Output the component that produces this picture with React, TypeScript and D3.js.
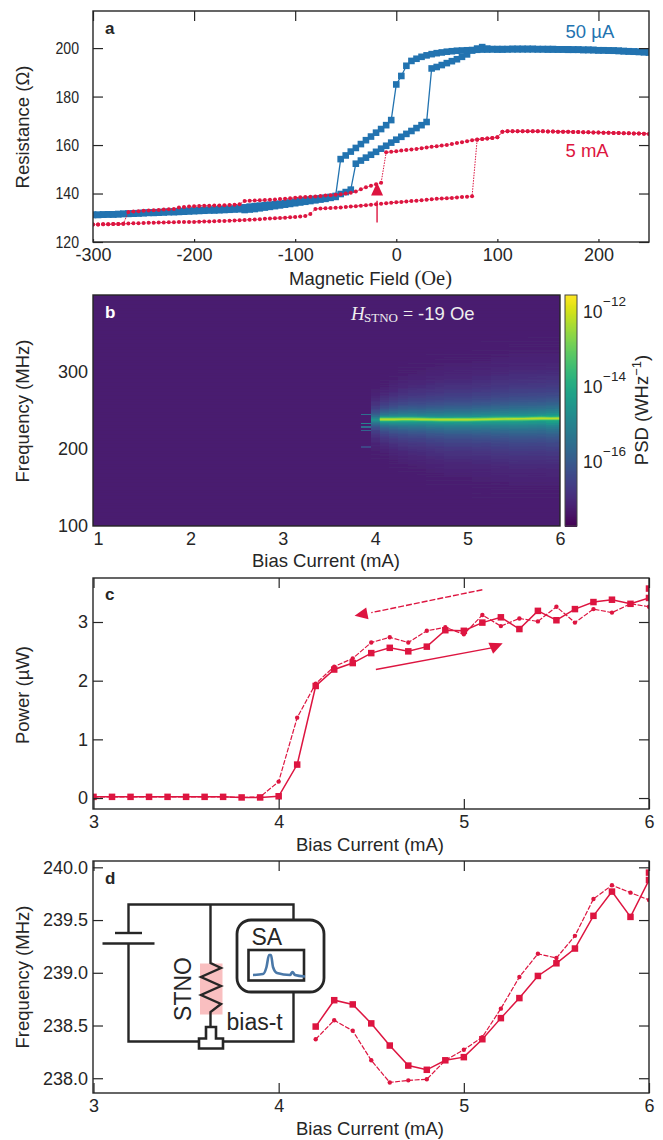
import React, { useEffect, useRef } from "react";
import * as d3 from "d3";

const crimson = "#dd1540";
const blue = "#2273b0";
const ink = "#262626";
const sans = "'Liberation Sans', Arial, sans-serif";
const serif = "'Liberation Serif', 'Times New Roman', serif";

// panel a, one value every 5 Oe from -300 to 250
const fieldGrid = d3.range(-300, 255, 5);
const blueLower = [
  131.2, 131.2, 131.3, 131.4, 131.4, 131.5, 131.6, 131.6, 131.7, 131.8,
  131.9, 132, 132, 132.1, 132.2, 132.3, 132.3, 132.4, 132.5, 132.6,
  132.7, 132.8, 132.9, 133, 133, 133.1, 133.2, 133.3, 133.4, 133.5,
  133.2, 133.4, 133.6, 133.9, 134.2, 134.5, 134.8, 135.1, 135.4, 135.7,
  136, 136.3, 136.6, 136.9, 137.2, 137.5, 137.8, 138.2, 138.6, 139.8,
  140.6, 141.6, 152.3, 153.6, 154.8, 156, 157.2, 158.5, 159.7, 161,
  162.2, 163.4, 164.6, 165.8, 167, 168.2, 169.5, 191.6, 192.2, 193,
  193.8, 194.6, 195.4, 196.4, 197.4, 199, 199.8, 200.4, 199.8, 199.6,
  199.4, 199.4, 199.5, 199.5, 199.5, 199.5, 199.5, 199.5, 199.5, 199.5,
  199.4, 199.4, 199.4, 199.4, 199.3, 199.3, 199.3, 199.2, 199.2, 199.2,
  199.1, 199.1, 199, 199, 198.9, 198.8, 198.7, 198.6, 198.5, 198.4, 198.3,
];
const blueUpper = [
  131.2, 131.2, 131.3, 131.4, 131.4, 131.5, 131.6, 131.7, 131.8, 131.9,
  132, 132.1, 132.2, 132.3, 132.4, 132.5, 132.6, 132.7, 132.8, 132.9,
  133, 133.1, 133.2, 133.3, 133.4, 133.5, 133.6, 133.7, 133.8, 134,
  134.3, 134.6, 134.8, 135, 135.2, 135.4, 135.6, 135.8, 136, 136.3,
  136.6, 136.9, 137.2, 137.5, 137.8, 138, 138.3, 138.6, 139, 154.2,
  155.7, 157.3, 158.8, 160.4, 162, 163.5, 165.1, 166.6, 168.2, 170.3,
  185, 188.5, 192.7, 194.7, 195.6, 196.4, 197, 197.5, 197.9, 198.2,
  198.5, 198.7, 198.9, 199, 199.1, 199.2, 199.3, 199.4, 199.4, 199.5,
  199.6, 199.6, 199.6, 199.7, 199.7, 199.7, 199.7, 199.7, 199.6, 199.6,
  199.6, 199.6, 199.5, 199.5, 199.5, 199.4, 199.4, 199.3, 199.3, 199.2,
  199.1, 199.1, 199, 198.9, 198.8, 198.7, 198.6, 198.5, 198.4, 198.3, 198.2,
];
const redLower = [
  127.2, 127.2, 127.3, 127.3, 127.4, 127.4, 127.5, 127.6, 127.7, 127.7,
  127.8, 127.9, 127.9, 128, 128, 128.1, 128.1, 128.2, 128.2, 128.3,
  128.3, 128.4, 128.5, 128.5, 128.6, 128.7, 128.7, 128.8, 128.9, 129,
  129.1, 129.2, 129.3, 129.4, 129.6, 129.7, 129.8, 129.9, 130, 130.2,
  130.3, 130.5, 130.7, 131.6, 133.6, 133.8, 133.9, 134, 134.1, 134.2,
  134.4, 134.6, 134.8, 135, 135.2, 135.4, 135.6, 135.8, 136, 136.2,
  136.4, 136.5, 136.7, 136.9, 137, 137.2, 137.4, 137.6, 137.8, 137.9,
  138.1, 138.2, 138.4, 138.6, 138.7, 138.9, 162.2, 162.5, 162.7, 162.9,
  163.2, 165.5, 165.7, 165.7, 165.7, 165.7, 165.7, 165.7, 165.7, 165.7,
  165.6, 165.6, 165.5, 165.5, 165.5, 165.4, 165.4, 165.3, 165.3, 165.2,
  165.2, 165.1, 165.1, 165, 165, 164.9, 164.9, 164.8, 164.8, 164.7, 164.6,
];
const redUpper = [
  127.2, 127.2, 127.3, 127.3, 127.4, 127.4, 127.5, 132.4, 132.6, 132.7,
  132.9, 133, 133.1, 133.2, 133.4, 133.5, 133.6, 134.2, 134.4, 134.6,
  134.8, 134.9, 135, 135, 135.1, 135.1, 135.2, 135.3, 135.4, 135.6,
  136.9, 137, 137.1, 137.2, 137.3, 137.4, 137.5, 137.7, 137.8, 138,
  138.3, 138.5, 138.6, 138.7, 138.8, 139, 139.2, 139.3, 139.5, 139.7,
  140, 140.3, 140.8, 141.8, 142.6, 143.2, 143.8, 144.4, 157, 157.2,
  157.4, 157.7, 158, 158.2, 158.4, 158.7, 159, 159.3, 159.5, 159.8,
  160, 160.4, 160.8, 161.2, 161.6, 162, 162.3, 162.5, 162.7, 162.9,
  163.2, 165.5, 165.7, 165.7, 165.7, 165.7, 165.7, 165.7, 165.7, 165.7,
  165.6, 165.6, 165.5, 165.5, 165.5, 165.4, 165.4, 165.3, 165.3, 165.2,
  165.2, 165.1, 165.1, 165, 165, 164.9, 164.9, 164.8, 164.8, 164.7, 164.6,
];

// panel b
const psdCurrents = [4, 4.1, 4.2, 4.3, 4.4, 4.5, 4.6, 4.7, 4.8, 4.9, 5, 5.1, 5.2, 5.3, 5.4, 5.5, 5.6, 5.7, 5.8, 5.9, 6];
const psdCentre = [238.5, 238.5, 238.5, 238.7, 238.7, 238.5, 238.3, 238.1, 238.1, 238.2, 238.2, 238.4, 238.6, 238.8, 239, 239.1, 239.2, 239.5, 239.8, 239.6, 239.9];
const psdHaze = [0.72, 0.95, 0.92, 0.9, 0.88, 0.85, 0.85, 0.85, 0.85, 0.85, 0.85, 0.85, 0.85, 0.85, 0.85, 0.85, 0.85, 0.85, 0.85, 0.9, 0.9];
const psdSpread = [0.45, 0.5, 0.58, 0.65, 0.7, 0.72, 0.78, 0.8, 0.85, 0.85, 0.85, 0.9, 0.9, 0.95, 0.95, 1, 1, 1, 1, 1, 1];
const hazeOffsets = [0, 4, 8, 14, 22, 32, 45, 65, 90, 120];
const hazeLevels = [0.6, 0.54, 0.44, 0.33, 0.23, 0.15, 0.09, 0.035, 0.005, 0];
const ridgeLevels = [0.62, 0.76, 0.89];
const ridgeWidths = [5, 3.2, 1.6];
const streakFreqs = [246, 234, 230, 225, 204];
const streakLevels = [0.36, 0.44, 0.36, 0.32, 0.2];
const rowShade = [0.08, 0.083, 0.077, 0.081, 0.085, 0.079, 0.076, 0.082, 0.084, 0.078, 0.08, 0.077, 0.083];
const psdTicks = [1e-12, 1e-14, 1e-16];
const psdExponents = ["\u221212", "\u221214", "\u221216"];

// panels c and d, 0.1 mA steps
const powerCurrents = d3.range(30, 61).map((d) => d / 10);
const powerUp = [0.02, 0.02, 0.02, 0.02, 0.02, 0.02, 0.02, 0.02, 0.01, 0.01, 0.03, 0.57, 1.91, 2.19, 2.3, 2.47, 2.56, 2.5, 2.58, 2.86, 2.85, 2.99, 3.08, 2.88, 3.19, 3.03, 3.22, 3.34, 3.38, 3.31, 3.41];
const powerDown = [0.02, 0.02, 0.02, 0.02, 0.02, 0.02, 0.02, 0.02, 0.01, 0.02, 0.28, 1.37, 1.95, 2.24, 2.38, 2.65, 2.74, 2.65, 2.85, 2.91, 2.79, 3.12, 2.93, 3.06, 3.01, 3.26, 2.99, 3.22, 3.16, 3.31, 3.26];
const powerExtra = [6, 3.57];
const freqCurrents = d3.range(42, 61).map((d) => d / 10);
const freqUp = [238.49, 238.74, 238.7, 238.52, 238.31, 238.12, 238.08, 238.17, 238.2, 238.37, 238.57, 238.76, 238.97, 239.09, 239.23, 239.54, 239.77, 239.53, 239.88];
const freqDown = [238.37, 238.55, 238.45, 238.17, 237.96, 237.98, 237.99, 238.17, 238.27, 238.39, 238.66, 238.96, 239.18, 239.14, 239.35, 239.7, 239.83, 239.76, 239.69];
const freqExtra = [6, 239.95];

type Frame = { left: number; right: number; top: number; bottom: number };
const frameA: Frame = { left: 93, right: 649, top: 11, bottom: 242 };
const frameB: Frame = { left: 93, right: 560, top: 295, bottom: 526 };
const frameC: Frame = { left: 93, right: 649, top: 578, bottom: 809 };
const frameD: Frame = { left: 93, right: 649, top: 861, bottom: 1093 };

const App = () => {
  const svgRef = useRef<SVGSVGElement>(null);

  useEffect(() => {
    const svg = d3.select(svgRef.current);
    svg.selectAll("*").remove();

    const put = (
      parent: any,
      str: string,
      x: number,
      y: number,
      size: number,
      opts: { anchor?: string; fill?: string; weight?: string; rotate?: boolean; family?: string } = {}
    ) =>
      parent
        .append("text")
        .attr("x", opts.rotate ? 0 : x)
        .attr("y", opts.rotate ? 0 : y)
        .attr("transform", opts.rotate ? `translate(${x},${y}) rotate(-90)` : null)
        .attr("text-anchor", opts.anchor || "start")
        .attr("font-family", opts.family || sans)
        .attr("font-size", size)
        .attr("font-weight", opts.weight || "normal")
        .attr("fill", opts.fill || ink)
        .text(str);

    const drawAxes = (
      f: Frame,
      x: any,
      y: any,
      xTicks: number[],
      yTicks: number[],
      yFormat: (d: any) => string,
      inner: number,
      bottomInner: number,
      yPad: number
    ) => {
      const g = svg.append("g");
      const style = (a: any) => {
        a.selectAll("path").remove();
        a.selectAll("line").attr("stroke", ink).attr("stroke-width", 1.2);
        a.selectAll("text").attr("font-family", sans).attr("font-size", 18).attr("fill", ink);
      };
      g.append("g")
        .attr("transform", `translate(0,${f.bottom})`)
        .call(d3.axisBottom(x).tickValues(xTicks).tickSize(-bottomInner).tickPadding(6).tickFormat((d: any) => String(d)))
        .call(style);
      g.append("g")
        .attr("class", "left-axis")
        .attr("transform", `translate(${f.left},0)`)
        .call(d3.axisLeft(y).tickValues(yTicks).tickSize(-inner).tickPadding(yPad).tickFormat(yFormat as any))
        .call(style);
      g.append("g")
        .attr("transform", `translate(0,${f.top})`)
        .call(d3.axisTop(x).tickValues(xTicks).tickSize(-inner).tickFormat(() => ""))
        .call(style);
      g.append("g")
        .attr("transform", `translate(${f.right},0)`)
        .call(d3.axisRight(y).tickValues(yTicks).tickSize(-inner).tickFormat(() => ""))
        .call(style);
      g.append("rect")
        .attr("x", f.left)
        .attr("y", f.top)
        .attr("width", f.right - f.left)
        .attr("height", f.bottom - f.top)
        .attr("fill", "none")
        .attr("stroke", ink)
        .attr("stroke-width", 1.4);
      return g;
    };

    const clipped = (id: string, f: Frame) => {
      svg
        .append("clipPath")
        .attr("id", id)
        .append("rect")
        .attr("x", f.left)
        .attr("y", f.top)
        .attr("width", f.right - f.left)
        .attr("height", f.bottom - f.top);
      return svg.append("g").attr("clip-path", `url(#${id})`);
    };

    const series = (
      g: any,
      xs: number[],
      ys: number[],
      x: any,
      y: any,
      o: { color: string; width: number; dash?: string; square?: number; dot?: number }
    ) => {
      const pts = xs.map((d, i) => [x(d), y(ys[i])] as [number, number]);
      g.append("path")
        .attr("d", d3.line()(pts))
        .attr("fill", "none")
        .attr("stroke", o.color)
        .attr("stroke-width", o.width)
        .attr("stroke-dasharray", o.dash || null);
      if (o.square) {
        const s = o.square;
        g.selectAll(null)
          .data(pts)
          .join("rect")
          .attr("x", (d: any) => d[0] - s / 2)
          .attr("y", (d: any) => d[1] - s / 2)
          .attr("width", s)
          .attr("height", s)
          .attr("fill", o.color);
      }
      if (o.dot) {
        g.selectAll(null)
          .data(pts)
          .join("circle")
          .attr("cx", (d: any) => d[0])
          .attr("cy", (d: any) => d[1])
          .attr("r", o.dot)
          .attr("fill", o.color);
      }
    };

    const arrow = (g: any, x0: number, y0: number, x1: number, y1: number, tipX: number, tipY: number, dash?: string) => {
      g.append("line")
        .attr("x1", x0)
        .attr("y1", y0)
        .attr("x2", x1)
        .attr("y2", y1)
        .attr("stroke", crimson)
        .attr("stroke-width", 1.4)
        .attr("stroke-dasharray", dash || null);
      const a = Math.atan2(tipY - y1, tipX - x1);
      const base = 13;
      const half = 6;
      const bx = tipX - base * Math.cos(a);
      const by = tipY - base * Math.sin(a);
      const tri = d3.line()([
        [tipX, tipY],
        [bx + half * Math.sin(a), by - half * Math.cos(a)],
        [bx - half * Math.sin(a), by + half * Math.cos(a)],
      ]);
      g.append("path").attr("d", tri + "Z").attr("fill", crimson);
    };

    // panel a
    const xA = d3.scaleLinear().domain([-300, 250]).range([frameA.left, frameA.right]);
    const yA = d3.scaleLinear().domain([120, 215.3]).range([frameA.bottom, frameA.top]);
    const gA = clipped("clipA", frameA);
    series(gA, fieldGrid, blueLower, xA, yA, { color: blue, width: 1.3, square: 6.6 });
    series(gA, fieldGrid, blueUpper, xA, yA, { color: blue, width: 1.3, square: 6.6 });
    series(gA, fieldGrid, redLower, xA, yA, { color: crimson, width: 1, dash: "1.5 1.2", dot: 2 });
    series(gA, fieldGrid, redUpper, xA, yA, { color: crimson, width: 1, dash: "1.5 1.2", dot: 2 });
    const axesA = drawAxes(frameA, xA, yA, [-300, -200, -100, 0, 100, 200], [120, 140, 160, 180, 200], (d) => String(d), 10, 3, 14);
    // the y numbers of this panel are narrower than the others in the reference
    axesA.select(".left-axis").selectAll("text").attr("font-size", 17).attr("textLength", 23.5).attr("lengthAdjust", "spacingAndGlyphs");
    arrow(svg, xA(-19), yA(128), xA(-19), yA(137), xA(-19), yA(144.5));
    put(svg, "50 \u00b5A", 565.5, 37.5, 18.5, { fill: blue });
    put(svg, "5 mA", 565.5, 157, 18.5, { fill: crimson });
    put(svg, "a", 105, 34, 17, { weight: "bold" });
    const labelA = put(svg, "Magnetic Field ", 289, 285, 18.5);
    labelA.append("tspan").attr("font-family", serif).attr("font-size", 20.5).text("(Oe)");
    put(svg, "Resistance (\u03a9)", 29, 127, 18.5, { rotate: true, anchor: "middle" });

    // panel b
    const xB = d3.scaleLinear().domain([0.946, 6]).range([frameB.left, frameB.right]);
    const yB = d3.scaleLinear().domain([100, 400]).range([frameB.bottom, frameB.top]);
    const colour = d3.scaleSequential(d3.interpolateViridis).domain([0, 1]);
    svg
      .append("filter")
      .attr("id", "soften")
      .attr("x", "-2%")
      .attr("y", "-2%")
      .attr("width", "104%")
      .attr("height", "104%")
      .append("feGaussianBlur")
      .attr("stdDeviation", 0.6);
    const gB = clipped("clipB", frameB).append("g").attr("filter", "url(#soften)");
    const cells = gB.append("g").attr("shape-rendering", "crispEdges");
    const rows = d3.range(98, 402, 1.3);
    const rowH = yB(100) - yB(101.3) + 0.5;
    rows.forEach((f, i) => {
      cells
        .append("rect")
        .attr("x", frameB.left - 4)
        .attr("y", yB(f + 1.3))
        .attr("width", frameB.right - frameB.left + 8)
        .attr("height", rowH)
        .attr("fill", colour(rowShade[i % rowShade.length]));
    });
    const haze = d3.scaleLinear().domain(hazeOffsets).range(hazeLevels).clamp(true);
    const colW = xB(1.1) - xB(1);
    psdCurrents.forEach((c, k) => {
      rows.forEach((f, i) => {
        const off = Math.abs(f + 0.65 - psdCentre[k]);
        const soft = rowShade[i % rowShade.length] + psdHaze[k] * haze(off / psdSpread[k]);
        cells
          .append("rect")
          .attr("x", xB(c) - colW / 2)
          .attr("y", yB(f + 1.3))
          .attr("width", c === 6 ? colW + 6 : colW + 0.5)
          .attr("height", rowH)
          .attr("fill", colour(soft));
      });
    });
    streakFreqs.forEach((f, i) => {
      cells
        .append("rect")
        .attr("x", xB(3.9) - colW / 2)
        .attr("y", yB(f))
        .attr("width", colW)
        .attr("height", 1.6)
        .attr("fill", colour(streakLevels[i]));
    });
    // the narrow oscillation peak, skipping the 4.0 mA column
    const ridge = d3
      .line<number>()
      .x((d) => xB(psdCurrents[d] === 4.1 ? 4.05 : psdCurrents[d] === 6 ? 6.1 : psdCurrents[d]))
      .y((d) => yB(psdCentre[d]));
    ridgeLevels.forEach((level, i) => {
      gB.append("path")
        .attr("d", ridge(d3.range(1, psdCurrents.length)))
        .attr("fill", "none")
        .attr("stroke", colour(level))
        .attr("stroke-width", ridgeWidths[i]);
    });
    drawAxes(frameB, xB, yB, [1, 2, 3, 4, 5, 6], [100, 200, 300], (d) => String(d), 0, 0, 5);
    put(svg, "b", 105, 318, 17, { weight: "bold", fill: "#fff" });
    const hText = put(svg, "H", 351, 320, 19, { fill: "#eee", family: serif });
    hText.attr("font-style", "italic");
    put(svg, "STNO", 364, 322, 13, { fill: "#eee", family: serif });
    put(svg, "=", 403, 320, 18, { fill: "#eee", family: serif });
    put(svg, "-19 Oe", 418, 320, 18.5, { fill: "#eee" });
    put(svg, "Bias Current (mA)", 326, 567, 18.5, { anchor: "middle" });
    put(svg, "Frequency (MHz)", 29, 411, 18.5, { rotate: true, anchor: "middle" });

    // colour bar
    const bar: Frame = { left: 565, right: 577, top: 295, bottom: 526 };
    const yBar = d3.scaleLog().domain([10 ** -17.73, 10 ** -11.57]).range([bar.bottom, bar.top]);
    const gBar = svg.append("g").attr("shape-rendering", "crispEdges");
    d3.range(bar.top, bar.bottom).forEach((py) => {
      gBar
        .append("rect")
        .attr("x", bar.left)
        .attr("y", py)
        .attr("width", bar.right - bar.left)
        .attr("height", 1.5)
        .attr("fill", colour((bar.bottom - py) / (bar.bottom - bar.top)));
    });
    svg
      .append("rect")
      .attr("x", bar.left)
      .attr("y", bar.top)
      .attr("width", bar.right - bar.left)
      .attr("height", bar.bottom - bar.top)
      .attr("fill", "none")
      .attr("stroke", "#444")
      .attr("stroke-width", 1);
    psdTicks.forEach((t, i) => {
      put(svg, "10", 583, yBar(t) + 7, 17.5);
      put(svg, psdExponents[i], 603, yBar(t) - 5.5, 13.5);
    });
    const psdLabel = put(svg, "PSD (WHz", 648, 410, 18.5, { rotate: true, anchor: "middle" });
    psdLabel.append("tspan").attr("dy", -7).attr("font-size", 13).text("\u22121");
    psdLabel.append("tspan").attr("dy", 7).text(")");

    // panel c
    const xC = d3.scaleLinear().domain([3, 6]).range([frameC.left + 0.5, frameC.right]);
    const yC = d3.scaleLinear().domain([-0.187, 3.75]).range([frameC.bottom, frameC.top]);
    const gC = clipped("clipC", frameC);
    series(gC, powerCurrents, powerDown, xC, yC, { color: crimson, width: 1.2, dash: "5 1.5", dot: 2.2 });
    series(gC, [...powerCurrents, powerExtra[0]], [...powerUp, powerExtra[1]], xC, yC, { color: crimson, width: 1.5, square: 6.5 });
    drawAxes(frameC, xC, yC, [3, 4, 5, 6], [0, 1, 2, 3], (d) => String(d), 10, 10, 5);
    arrow(svg, xC(5.1), yC(3.55), xC(4.5), yC(3.16), xC(4.41), yC(3.105), "6 2");
    arrow(svg, xC(4.525), yC(2.19), xC(5.15), yC(2.56), xC(5.21), yC(2.64));
    put(svg, "c", 105, 600, 17, { weight: "bold" });
    put(svg, "Bias Current (mA)", 370, 851, 18.5, { anchor: "middle" });
    put(svg, "Power (\u00b5W)", 29, 695, 18.5, { rotate: true, anchor: "middle" });

    // panel d
    const xD = d3.scaleLinear().domain([3, 6]).range([frameD.left + 0.5, frameD.right]);
    const yD = d3.scaleLinear().domain([237.86, 240.06]).range([frameD.bottom, frameD.top]);
    const gD = clipped("clipD", frameD);
    series(gD, freqCurrents, freqDown, xD, yD, { color: crimson, width: 1.2, dash: "5 1.5", dot: 2.2 });
    series(gD, [...freqCurrents, freqExtra[0]], [...freqUp, freqExtra[1]], xD, yD, { color: crimson, width: 1.5, square: 6.5 });
    drawAxes(frameD, xD, yD, [3, 4, 5, 6], [238, 238.5, 239, 239.5, 240], d3.format(".1f"), 10, 10, 5);
    put(svg, "d", 105, 884, 17, { weight: "bold" });
    put(svg, "Bias Current (mA)", 370, 1135, 18.5, { anchor: "middle" });
    put(svg, "Frequency (MHz)", 29, 977, 18.5, { rotate: true, anchor: "middle" });

    // circuit sketch inside panel d
    const sketch = svg.append("g").attr("fill", "none").attr("stroke", ink).attr("stroke-width", 2.4);
    sketch.append("rect").attr("x", 200).attr("y", 963.5).attr("width", 22.5).attr("height", 51).attr("fill", "#f9bfc0").attr("stroke", "none");
    const wire = d3.line();
    sketch.append("path").attr("d", wire([[128.5, 933], [128.5, 904.5], [293.5, 904.5], [293.5, 1041.5], [128.5, 1041.5], [128.5, 943.5]]));
    sketch.append("path").attr("d", wire([[115, 933], [142, 933]]));
    sketch.append("path").attr("d", wire([[102.5, 943.5], [154.5, 943.5]]));
    sketch.append("path").attr("d", wire([[210.5, 904.5], [210.5, 963], [221, 968], [201, 977], [221, 986], [201, 995], [221, 1004], [210.5, 1012], [210.5, 1027]]));
    sketch.append("path")
      .attr("d", wire([[206, 1027], [216, 1027], [216, 1038.5], [223, 1038.5], [223, 1048.5], [199, 1048.5], [199, 1038.5], [206, 1038.5]]) + "Z")
      .attr("fill", "#fff")
      .attr("stroke-width", 2.6);
    sketch.append("rect").attr("x", 237).attr("y", 920).attr("width", 87).attr("height", 72).attr("rx", 14).attr("fill", "#fff").attr("stroke-width", 2.8);
    sketch.append("rect").attr("x", 248.5).attr("y", 950).attr("width", 55.5).attr("height", 30.5).attr("stroke-width", 2.6);
    const spectrum: [number, number][] = [[253, 975], [263, 974], [266.5, 967], [269, 955], [271, 955], [273, 967], [277, 973], [290, 975], [292.5, 972], [295, 975], [305, 976.5]];
    sketch.append("path").attr("d", d3.line().curve(d3.curveMonotoneX)(spectrum)).attr("stroke", "#4a78a8").attr("stroke-width", 2.6);
    put(svg, "SA", 251.5, 945, 23);
    put(svg, "bias-t", 226.5, 1030, 23);
    put(svg, "STNO", 191, 989, 23, { rotate: true, anchor: "middle" });
  }, []);

  return <svg ref={svgRef} width={663} height={1140} style={{ position: "absolute", left: 0, top: 0 }} />;
};

export default App;
